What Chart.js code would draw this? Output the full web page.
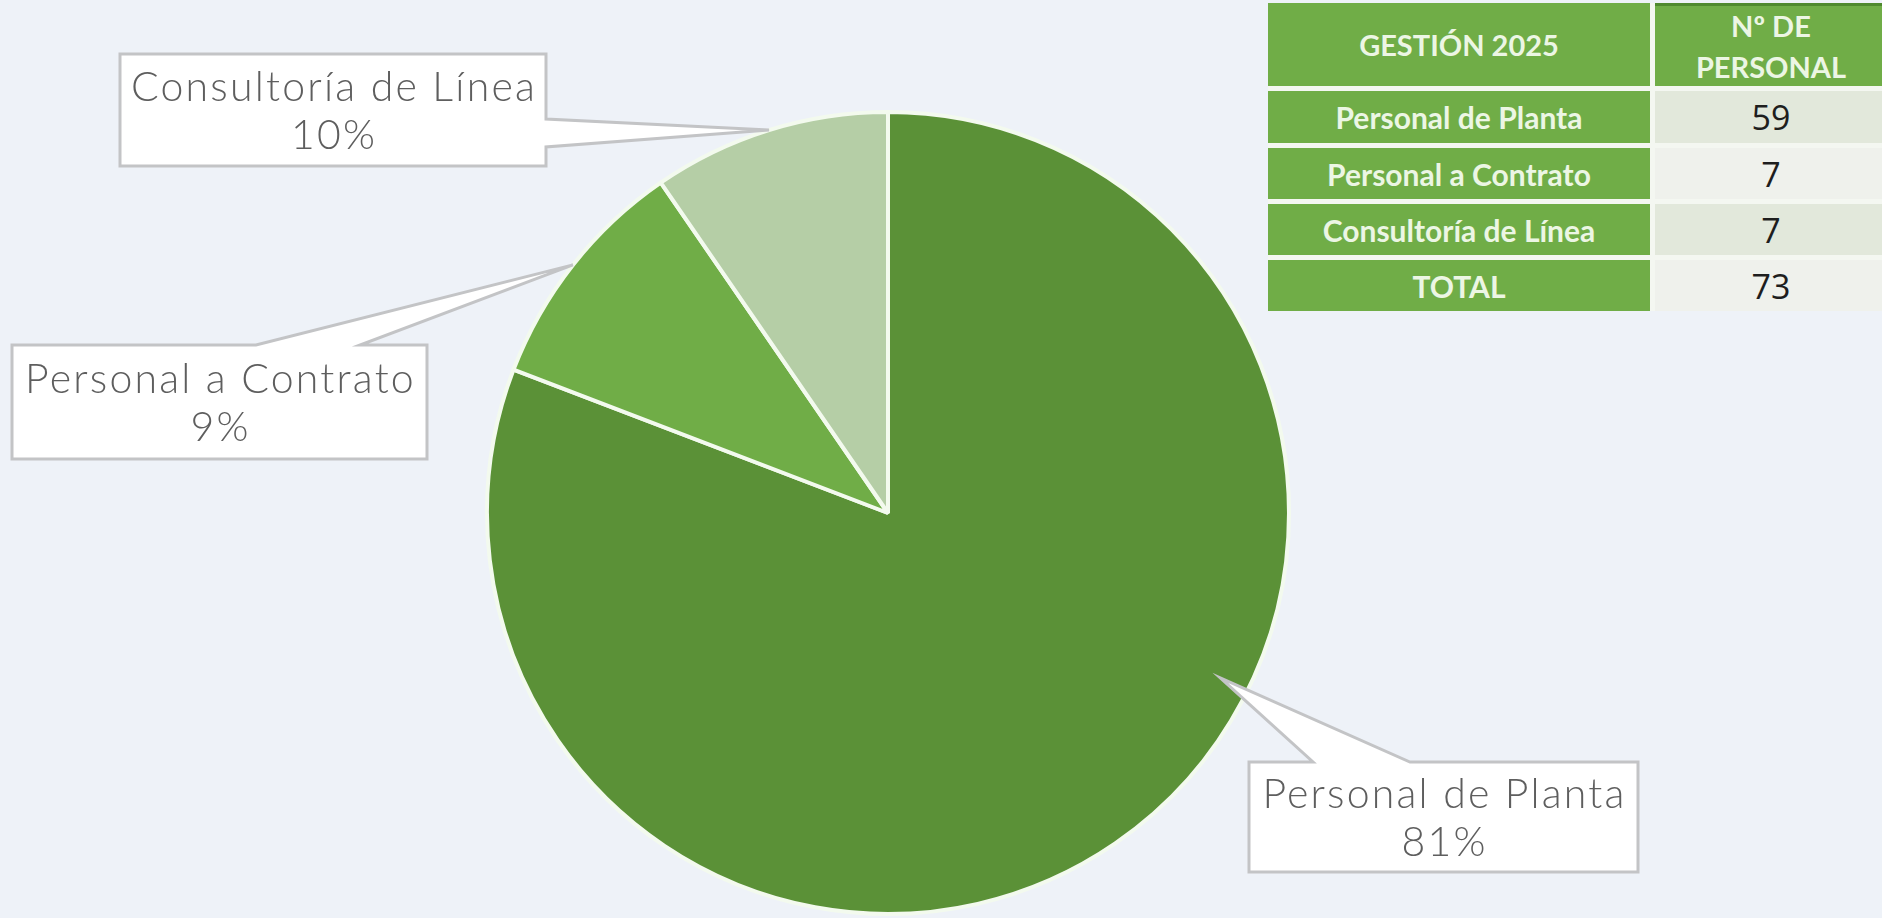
<!DOCTYPE html>
<html lang="es">
<head>
<meta charset="utf-8">
<title>Gestión 2025 - Personal</title>
<script src="https://cdn.jsdelivr.net/npm/chart.js@4.4.1/dist/chart.umd.min.js"></script>
<style>
    html, body { margin: 0; padding: 0; background: #eef2f8; overflow: hidden; }
    #wrap { position: relative; width: 1882px; height: 918px; }
    #pieChart { position: absolute; left: 0; top: 0; }
    #tabla {
        position: absolute; left: 1268px; top: 3px;
        display: grid; grid-template-columns: 382px 232px;
        grid-template-rows: 83px 52px 51px 51px 51px;
        gap: 5px; background: #f4f7f1;
        font-family: "Lato", "Open Sans", sans-serif;
    }
    #tabla div { display: flex; align-items: center; justify-content: center; text-align: center; }
    #tabla .lbl { background: #70ad47; color: #ecf6e4; font-weight: 700; font-size: 30px; }
    #tabla .hdr { background: #70ad47; color: #ecf6e4; font-weight: 700; font-size: 29px; line-height: 41px; }
    #tabla .hdr.num { border-top: 3px solid #4f8a2f; box-sizing: border-box; }
    #tabla .val { color: #1e1e1e; font-size: 34px; font-family: "Open Sans", sans-serif; }
    #tabla .val.a { background: #e2e8db; }
    #tabla .val.b { background: #eff1ec; }
</style>
</head>
<body>
<div id="wrap">
    <canvas id="pieChart" width="1882" height="918"></canvas>
    <div id="tabla"></div>
</div>
<script>
// datos
const categories = ["Personal de Planta", "Personal a Contrato", "Consultoría de Línea"];
const personal = [59, 7, 7];
const pctLabels = ["81%", "9%", "10%"];
const sliceColors = ["#5b9137", "#70ad47", "#b5cea6"];

const tableTitle = "GESTIÓN 2025";
const countHeader = ["Nº DE", "PERSONAL"];
const totalLabel = "TOTAL";

// posicion de las cajas de etiqueta (callouts estilo Excel)
const calloutLayout = [
    { x: 1249, y: 762, w: 389, h: 110, side: "top", base: [1313, 1410], at: 0.40, r: 0.925 },
    { x: 12, y: 345, w: 415, h: 114, side: "top", base: [256, 360], at: 0.5, r: 1.0 },
    { x: 120, y: 54, w: 426, h: 112, side: "right", base: [119, 147], at: 0.5, r: 1.0 },
];

function buildTable() {
    const t = document.getElementById("tabla");
    const total = personal.reduce((a, b) => a + b, 0);
    let html = `<div class="hdr">${tableTitle}</div><div class="hdr num">${countHeader.join("<br>")}</div>`;
    categories.forEach((c, i) => {
        html += `<div class="lbl">${c}</div><div class="val ${i % 2 ? "b" : "a"}">${personal[i]}</div>`;
    });
    html += `<div class="lbl">${totalLabel}</div><div class="val b">${total}</div>`;
    t.innerHTML = html;
}

const calloutPlugin = {
    id: "callouts",
    afterDatasetsDraw(chart) {
        const ctx = chart.ctx;
        const arcs = chart.getDatasetMeta(0).data;
        arcs.forEach((arc, i) => {
            const L = calloutLayout[i];
            const p = arc.getProps(["x", "y", "startAngle", "endAngle", "outerRadius"]);
            const ang = p.startAngle + L.at * (p.endAngle - p.startAngle);
            const tx = p.x + Math.cos(ang) * p.outerRadius * L.r;
            const ty = p.y + Math.sin(ang) * p.outerRadius * L.r;

            ctx.save();
            ctx.beginPath();
            if (L.side === "right") {
                ctx.moveTo(L.x, L.y);
                ctx.lineTo(L.x + L.w, L.y);
                ctx.lineTo(L.x + L.w, L.base[0]);
                ctx.lineTo(tx, ty);
                ctx.lineTo(L.x + L.w, L.base[1]);
                ctx.lineTo(L.x + L.w, L.y + L.h);
                ctx.lineTo(L.x, L.y + L.h);
            } else {
                ctx.moveTo(L.x, L.y);
                ctx.lineTo(L.base[0], L.y);
                ctx.lineTo(tx, ty);
                ctx.lineTo(L.base[1], L.y);
                ctx.lineTo(L.x + L.w, L.y);
                ctx.lineTo(L.x + L.w, L.y + L.h);
                ctx.lineTo(L.x, L.y + L.h);
            }
            ctx.closePath();
            ctx.fillStyle = "#ffffff";
            ctx.fill();
            ctx.lineWidth = 3;
            ctx.strokeStyle = "#c3c4c6";
            ctx.stroke();

            ctx.fillStyle = "#5e5e5e";
            ctx.font = "300 41px Lato";
            ctx.letterSpacing = "2.2px";
            ctx.textAlign = "center";
            ctx.textBaseline = "middle";
            const cx = L.x + L.w / 2 + 1;
            const cy = L.y + L.h / 2 + 2;
            ctx.fillText(categories[i], cx, cy - 24);
            ctx.fillText(pctLabels[i], cx, cy + 24);
            ctx.restore();
        });
    },
};

function drawPie() {
    const ctx = document.getElementById("pieChart").getContext("2d");
    new Chart(ctx, {
        type: "pie",
        data: {
            labels: categories,
            datasets: [{
                data: personal,
                backgroundColor: sliceColors,
                borderColor: "#f3faee",
                borderWidth: 4,
            }],
        },
        options: {
            responsive: false,
            animation: false,
            layout: { padding: { top: 110, bottom: 2, left: 400, right: 506 } },
            plugins: { legend: { display: false }, tooltip: { enabled: false } },
        },
        plugins: [calloutPlugin],
    });
}

buildTable();
drawPie();
</script>
</body>
</html>
